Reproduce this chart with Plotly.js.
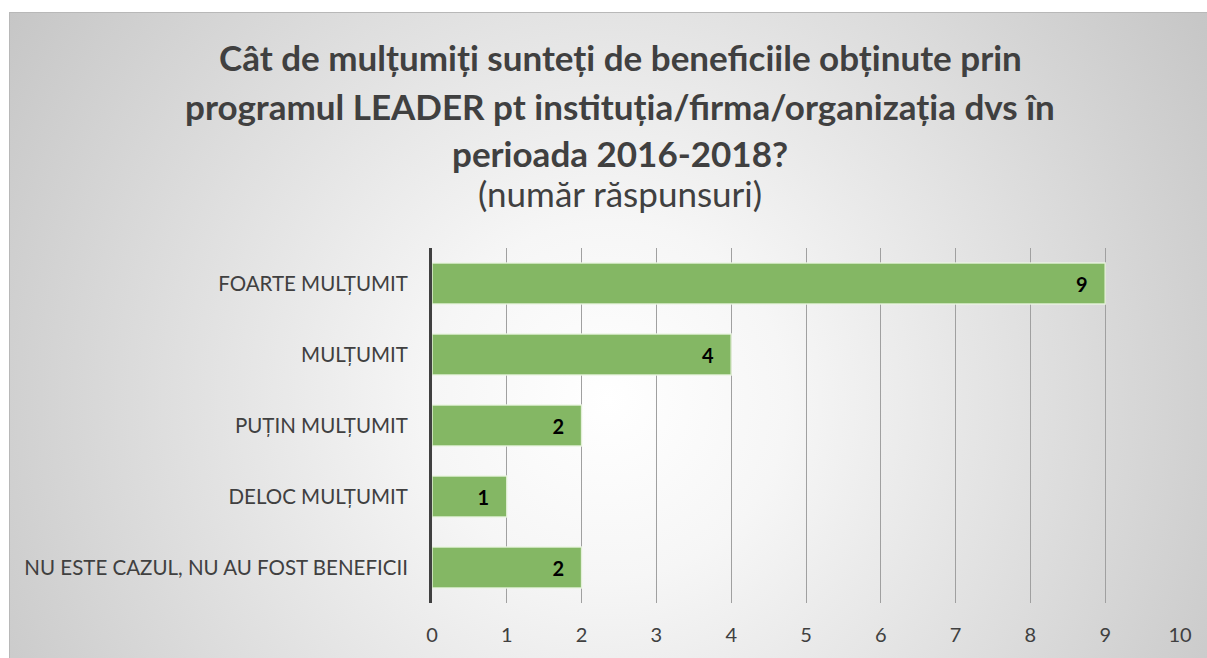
<!DOCTYPE html>
<html>
<head>
<meta charset="utf-8">
<script src="https://cdn.plot.ly/plotly-3.0.1.min.js"></script>
<style>
  html, body { margin:0; padding:0; background:#ffffff; width:1207px; height:658px; overflow:hidden; }
  #bg { position:absolute; left:9px; top:12px; width:1198px; height:646px;
        border-top:1px solid #b8b8b8; border-left:1px solid #b8b8b8; box-sizing:border-box;
        background: radial-gradient(circle farthest-corner at 50% 60%, #ffffff 0%, #f6f6f6 25%, #c6c6c6 100%); }
  #chart { position:absolute; left:0; top:0; width:1207px; height:658px; }
</style>
</head>
<body>
<div id="bg"></div>
<div id="chart"></div>
<script>
const categories = [
  "FOARTE MULȚUMIT",
  "MULȚUMIT",
  "PUȚIN MULȚUMIT",
  "DELOC MULȚUMIT",
  "NU ESTE CAZUL, NU AU FOST BENEFICII"
];
const values = [9, 4, 2, 1, 2];
const xTicks = [0, 1, 2, 3, 4, 5, 6, 7, 8, 9, 10];
const titleLines = [
  "Cât de mulțumiți sunteți de beneficiile obținute prin",
  "programul LEADER pt instituția/firma/organizația dvs în",
  "perioada 2016-2018?"
];
const subtitle = "(număr răspunsuri)";

const FONT = "Lato, 'Open Sans', sans-serif";

const trace = {
  type: "bar",
  orientation: "h",
  y: categories,
  x: values,
  texttemplate: "%{x}\u00a0\u00a0\u00a0",
  textposition: "inside",
  insidetextanchor: "end",
  textangle: 0,
  constraintext: "none",
  textfont: { family: FONT, size: 20, color: "#000000", weight: "bold" },
  marker: { color: "#84b764", line: { color: "rgba(235,245,225,0.9)", width: 1.5 } },
  hoverinfo: "none",
  cliponaxis: false
};

const W = 1207;
const titleX = 620 / W;
const annotations = [];
const lineY = [57, 106, 153];
titleLines.forEach((t, i) => {
  annotations.push({
    text: t, xref: "paper", yref: "paper", showarrow: false,
    x: titleX, xanchor: "center", yanchor: "middle",
    y: 1 - lineY[i] / 658,
    font: { family: FONT, size: 35, color: "#404040", weight: "bold" }
  });
});
annotations.push({
  text: subtitle, xref: "paper", yref: "paper", showarrow: false,
  x: titleX, xanchor: "center", yanchor: "middle",
  y: 1 - 193 / 658,
  font: { family: FONT, size: 35, color: "#404040" }
});
const mt = 248, mb = 55, H = 658;
annotations.forEach(a => {
  const py = (1 - a.y) * H;
  a.y = (H - mb - py) / (H - mt - mb);
  const px = a.x * W;
  a.x = (px - 432) / (1180 - 432);
});

const layout = {
  width: 1207, height: 658,
  margin: { l: 432, r: 27, t: mt, b: mb, pad: 0 },
  paper_bgcolor: "rgba(0,0,0,0)",
  plot_bgcolor: "rgba(0,0,0,0)",
  showlegend: false,
  bargap: 0.42,
  font: { family: FONT, color: "#404040" },
  xaxis: {
    range: [0, 10],
    tickvals: xTicks,
    ticktext: xTicks.map(String),
    showgrid: true, gridcolor: "#a0a0a0", gridwidth: 1,
    zeroline: false, showline: false, ticks: "",
    tickfont: { family: FONT, size: 20, color: "#404040" },
    ticklabelstandoff: 18,
    fixedrange: true
  },
  yaxis: {
    autorange: "reversed",
    showgrid: false, zeroline: false,
    showline: true, linecolor: "#404040", linewidth: 3,
    ticks: "",
    tickfont: { family: FONT, size: 20.5, color: "#404040" },
    ticklabelstandoff: 17,
    fixedrange: true
  },
  annotations: annotations
};

Plotly.newPlot("chart", [trace], layout, { displayModeBar: false, staticPlot: true });
</script>
</body>
</html>
